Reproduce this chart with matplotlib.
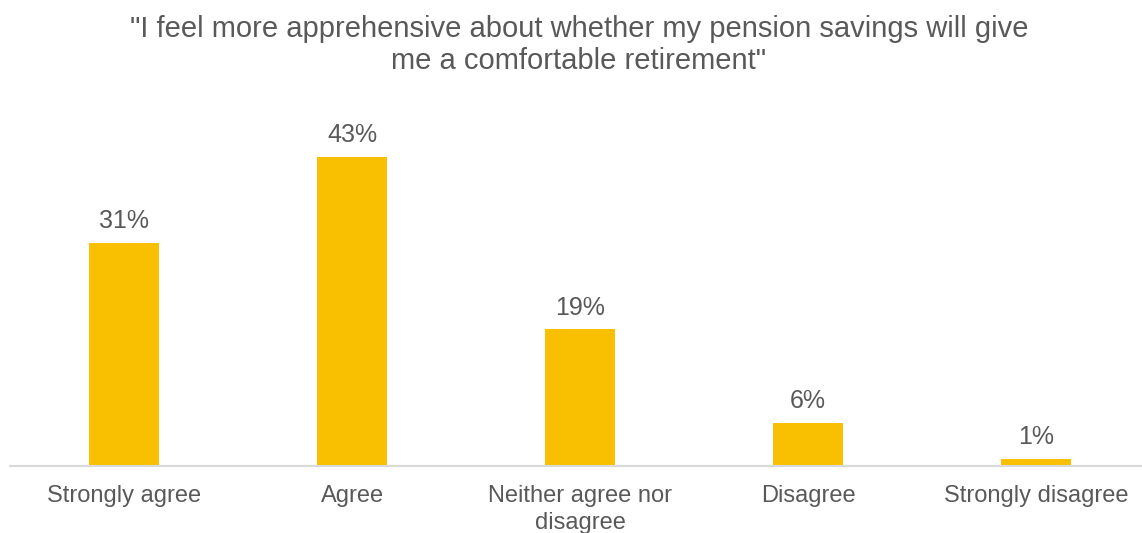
import matplotlib.pyplot as plt

plt.rcParams['font.family'] = ['Liberation Sans', 'DejaVu Sans']

categories = ["Strongly agree", "Agree", "Neither agree nor\ndisagree", "Disagree", "Strongly disagree"]
shares = [31, 43, 19, 6, 1]
title = "\"I feel more apprehensive about whether my pension savings will give\nme a comfortable retirement\""

bar_color = '#F8C000'
text_color = '#595959'

fig = plt.figure(figsize=(11.42, 5.33), dpi=100)
ax = fig.add_axes([0.0088, 0.1257, 0.9982, 0.6961])

x = range(len(categories))
bars = ax.bar(x, shares, width=0.311, color=bar_color, zorder=2)

for b, v in zip(bars, shares):
    ax.annotate(f"{v}%", (b.get_x() + b.get_width() / 2, b.get_height()),
                xytext=(0, 7), textcoords='offset points',
                ha='center', va='bottom', fontsize=18, color=text_color)

ax.set_xlim(-0.5, len(categories) - 0.5)
ax.set_ylim(0, 51.6)
ax.set_xticks(list(x))
ax.set_xticklabels(categories, fontsize=17, color=text_color, linespacing=1.25)
ax.tick_params(axis='x', length=0, pad=14)
ax.set_yticks([])

for side in ['top', 'right', 'left']:
    ax.spines[side].set_visible(False)
ax.spines['bottom'].set_color('#D9D9D9')
ax.spines['bottom'].set_linewidth(1.5)

fig.text(0.507, 0.972, title, ha='center', va='top', fontsize=21,
         color=text_color, linespacing=1.2)

fig.savefig('out.png', dpi=100)
